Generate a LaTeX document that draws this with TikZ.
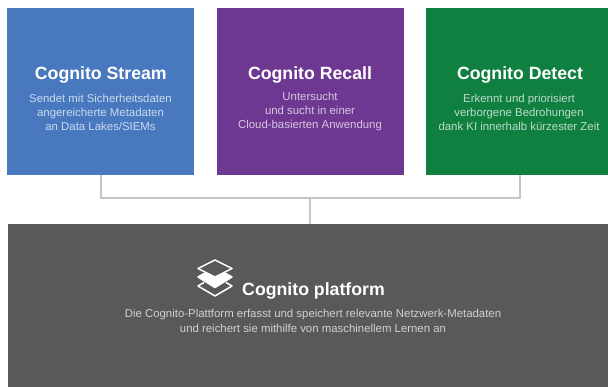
\documentclass[tikz,border=0pt]{standalone}
\usepackage{fontspec}
\setmainfont{Liberation Sans}
\definecolor{cblue}{HTML}{4878BE}
\definecolor{cpurple}{HTML}{6E3792}
\definecolor{cgreen}{HTML}{108040}
\definecolor{cdark}{HTML}{58595B}
\definecolor{cline}{HTML}{C4C5C9}
\tikzset{
  card/.style={anchor=north west,inner sep=0pt,outer sep=0pt,minimum height=167pt,minimum width=187pt},
  titletext/.style={text=white,font=\bfseries\fontsize{17.7}{20}\selectfont,inner sep=0pt,anchor=center},
  subtext/.style={text=white,text opacity=0.72,font=\fontsize{11.4}{14}\selectfont,align=center,inner sep=0pt,anchor=center},
  wire/.style={draw=cline,line width=2pt},
  layer/.style={draw=white,line width=1.5pt,line join=round}
}
\begin{document}
\begin{tikzpicture}[x=1pt,y=-1pt]
\useasboundingbox (0,0) rectangle (608,387);
\node[card,fill=cblue] (stream) at (7,8) {};
\node[card,fill=cpurple] (recall) at (217,8) {};
\node[card,fill=cgreen,minimum width=182pt] (detect) at (426,8) {};
\node[card,fill=cdark,minimum width=600pt,minimum height=163pt] (platform) at (8,224) {};
\coordinate (junction) at (310,198);
\coordinate (sa) at (101,175);
\coordinate (da) at (520,175);
\draw[wire] (sa) |- (junction) -| (da);
\draw[wire] (junction) -- (junction |- platform.north);
\node[titletext] (t1) at (100.8,74.5) {Cognito Stream};
\node[subtext] (s1) at (100.5,112) {Sendet mit Sicherheitsdaten\\angereicherte Metadaten\\an Data Lakes/SIEMs};
\node[titletext] (t2) at (310,74.5) {Cognito Recall};
\node[subtext] (s2) at (310,112) {Untersucht\\und sucht in einer\\Cloud-basierten Anwendung};
\node[titletext] (t3) at (520,74.5) {Cognito Detect};
\node[subtext] (s3) at (519,112) {Erkennt und priorisiert\\verborgene Bedrohungen\\dank KI innerhalb kürzester Zeit};
\node[titletext] (t4) at (313.5,290.5) {Cognito platform};
\node[subtext,font=\fontsize{11.4}{15}\selectfont] (s4) at (313,321) {Die Cognito-Plattform erfasst und speichert relevante Netzwerk-Metadaten\\und reichert sie mithilfe von maschinellem Lernen an};
% layers icon
\draw[layer] (204,282.5) -- (198,286) -- (215,296) -- (232,286) -- (226,282.5);
\draw[layer,fill=white] (198,277) -- (205,273) -- (215,278) -- (225,273) -- (232,277) -- (215,287.5) -- cycle;
\draw[layer] (215,260) -- (232,268.5) -- (215,277) -- (198,268.5) -- cycle;
\end{tikzpicture}
\end{document}
